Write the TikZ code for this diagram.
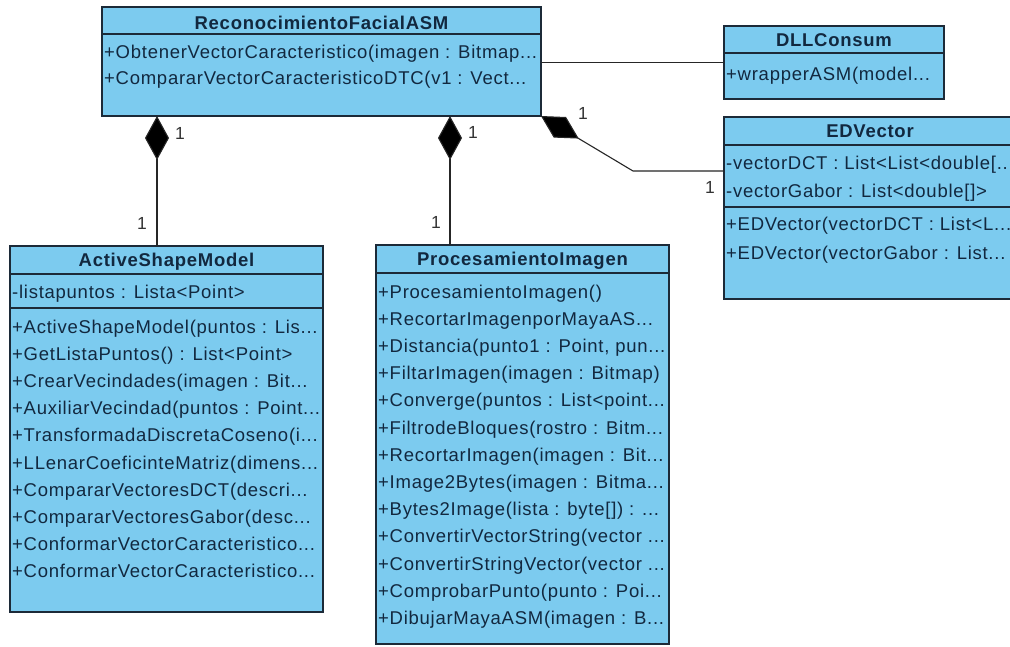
\documentclass[tikz,border=0pt]{standalone}
\usepackage{fontspec}
\usetikzlibrary{arrows.meta}
\newfontfamily\umlfont{Liberation Sans}[LetterSpace=4]
\definecolor{classfill}{HTML}{7CCBEF}
\definecolor{classline}{HTML}{1C2A38}
\definecolor{classtext}{HTML}{12283F}
% truncation mark for long member signatures
\newcommand{\trunc}{...}
\tikzset{
  classbox/.style={draw=classline, fill=classfill, line width=1.3pt, anchor=north west,
    inner sep=0pt, outer sep=0pt, rectangle},
  classname/.style={font=\umlfont\fontsize{18.5}{20}\selectfont\bfseries, text=classtext,
    inner sep=0pt, anchor=base},
  member/.style={font=\umlfont\fontsize{18.5}{20}\selectfont, text=classtext,
    anchor=base west, inner sep=0pt},
  divider/.style={draw=classline, line width=1.1pt},
  assoc/.style={draw=black!85, line width=1.1pt},
  composition/.style={assoc, -{Diamond[length=44pt,width=24pt,fill=black]}},
  mult/.style={font=\umlfont\fontsize{17.5}{19}\selectfont, text=black!80, inner sep=0pt},
}
\begin{document}
\begin{tikzpicture}[x=1pt,y=-1pt]
\clip (0,0) rectangle (1010,646);
\fill[white] (0,0) rectangle (1010,646);

% ReconocimientoFacialASM
\node[classbox, minimum width=439pt, minimum height=109pt] (rfa) at (102,7) {};
\draw[divider] ([yshift=-27pt]rfa.north west) -- ([yshift=-27pt]rfa.north east);
\node[classname] (rfaName) at (321.5,29) {ReconocimientoFacialASM};
\node[member] (rfaOp1) at (104,58) {+ObtenerVectorCaracteristico(imagen : Bitmap\trunc};
\node[member] (rfaOp2) at (104,84) {+CompararVectorCaracteristicoDTC(v1 : Vect\trunc};

% DLLConsum
\node[classbox, minimum width=220pt, minimum height=73pt] (dll) at (724,26) {};
\draw[divider] ([yshift=-27pt]dll.north west) -- ([yshift=-27pt]dll.north east);
\node[classname] (dllName) at (834,46) {DLLConsum};
\node[member] (dllOp1) at (726,80) {+wrapperASM(model\trunc};

% EDVector
\node[classbox, minimum width=292pt, minimum height=182pt] (edv) at (724,117) {};
\draw[divider] ([yshift=-28pt]edv.north west) -- ([yshift=-28pt]edv.north east);
\draw[divider] ([yshift=-90pt]edv.north west) -- ([yshift=-90pt]edv.north east);
\node[classname] (edvName) at (870,137) {EDVector};
\node[member] (edvAt1) at (726,169) {-vectorDCT : List<List<double[\trunc};
\node[member] (edvAt2) at (726,197) {-vectorGabor : List<double[]>};
\node[member] (edvOp1) at (726,230) {+EDVector(vectorDCT : List<L\trunc};
\node[member] (edvOp2) at (726,259) {+EDVector(vectorGabor : List\trunc};

% ActiveShapeModel
\node[classbox, minimum width=313pt, minimum height=366pt] (asm) at (10,246) {};
\draw[divider] ([yshift=-28pt]asm.north west) -- ([yshift=-28pt]asm.north east);
\draw[divider] ([yshift=-62pt]asm.north west) -- ([yshift=-62pt]asm.north east);
\node[classname] (asmName) at (166.5,266) {ActiveShapeModel};
\node[member] (asmAt1) at (12,298) {-listapuntos : Lista<Point>};
\foreach \txt [count=\i from 0] in {
  {+ActiveShapeModel(puntos : Lis\trunc},
  {+GetListaPuntos() : List<Point>},
  {+CrearVecindades(imagen : Bit\trunc},
  {+AuxiliarVecindad(puntos : Point\trunc},
  {+TransformadaDiscretaCoseno(i\trunc},
  {+LLenarCoeficinteMatriz(dimens\trunc},
  {+CompararVectoresDCT(descri\trunc},
  {+CompararVectoresGabor(desc\trunc},
  {+ConformarVectorCaracteristico\trunc},
  {+ConformarVectorCaracteristico\trunc}}
  \node[member] (asmOp\i) at (12,333+27.2*\i) {\txt};

% ProcesamientoImagen
\node[classbox, minimum width=293pt, minimum height=399pt] (pi) at (376,245) {};
\draw[divider] ([yshift=-28pt]pi.north west) -- ([yshift=-28pt]pi.north east);
\node[classname] (piName) at (522.5,265) {ProcesamientoImagen};
\foreach \txt [count=\i from 0] in {
  {+ProcesamientoImagen()},
  {+RecortarImagenporMayaAS\trunc},
  {+Distancia(punto1 : Point, pun\trunc},
  {+FiltarImagen(imagen : Bitmap)},
  {+Converge(puntos : List<point\trunc},
  {+FiltrodeBloques(rostro : Bitm\trunc},
  {+RecortarImagen(imagen : Bit\trunc},
  {+Image2Bytes(imagen : Bitma\trunc},
  {+Bytes2Image(lista : byte[]) : \trunc},
  {+ConvertirVectorString(vector \trunc},
  {+ConvertirStringVector(vector \trunc},
  {+ComprobarPunto(punto : Poi\trunc},
  {+DibujarMayaASM(imagen : B\trunc}}
  \node[member] (piOp\i) at (378,298+27.2*\i) {\txt};

% Connectors
\draw[assoc] (rfa.east |- dll.west) -- (dll.west);
\coordinate (asmJoin) at ([xshift=147pt]asm.north west);
\draw[composition] (asmJoin) -- (asmJoin |- rfa.south);
\coordinate (piJoin) at ([xshift=74pt]pi.north west);
\draw[composition] (piJoin) -- (piJoin |- rfa.south);
\coordinate (edvBend) at (633,171);
\draw[composition, line join=round] (edv.west |- edvBend) -- (edvBend) -- (rfa.south east);

% Multiplicities
\node[mult] (mAsmTop) at (180,133) {1};
\node[mult] (mAsmBot) at (142,223) {1};
\node[mult] (mPiTop) at (473,132) {1};
\node[mult] (mPiBot) at (436,222) {1};
\node[mult] (mEdvTop) at (583,113) {1};
\node[mult] (mEdvBot) at (710,187) {1};
\end{tikzpicture}
\end{document}
